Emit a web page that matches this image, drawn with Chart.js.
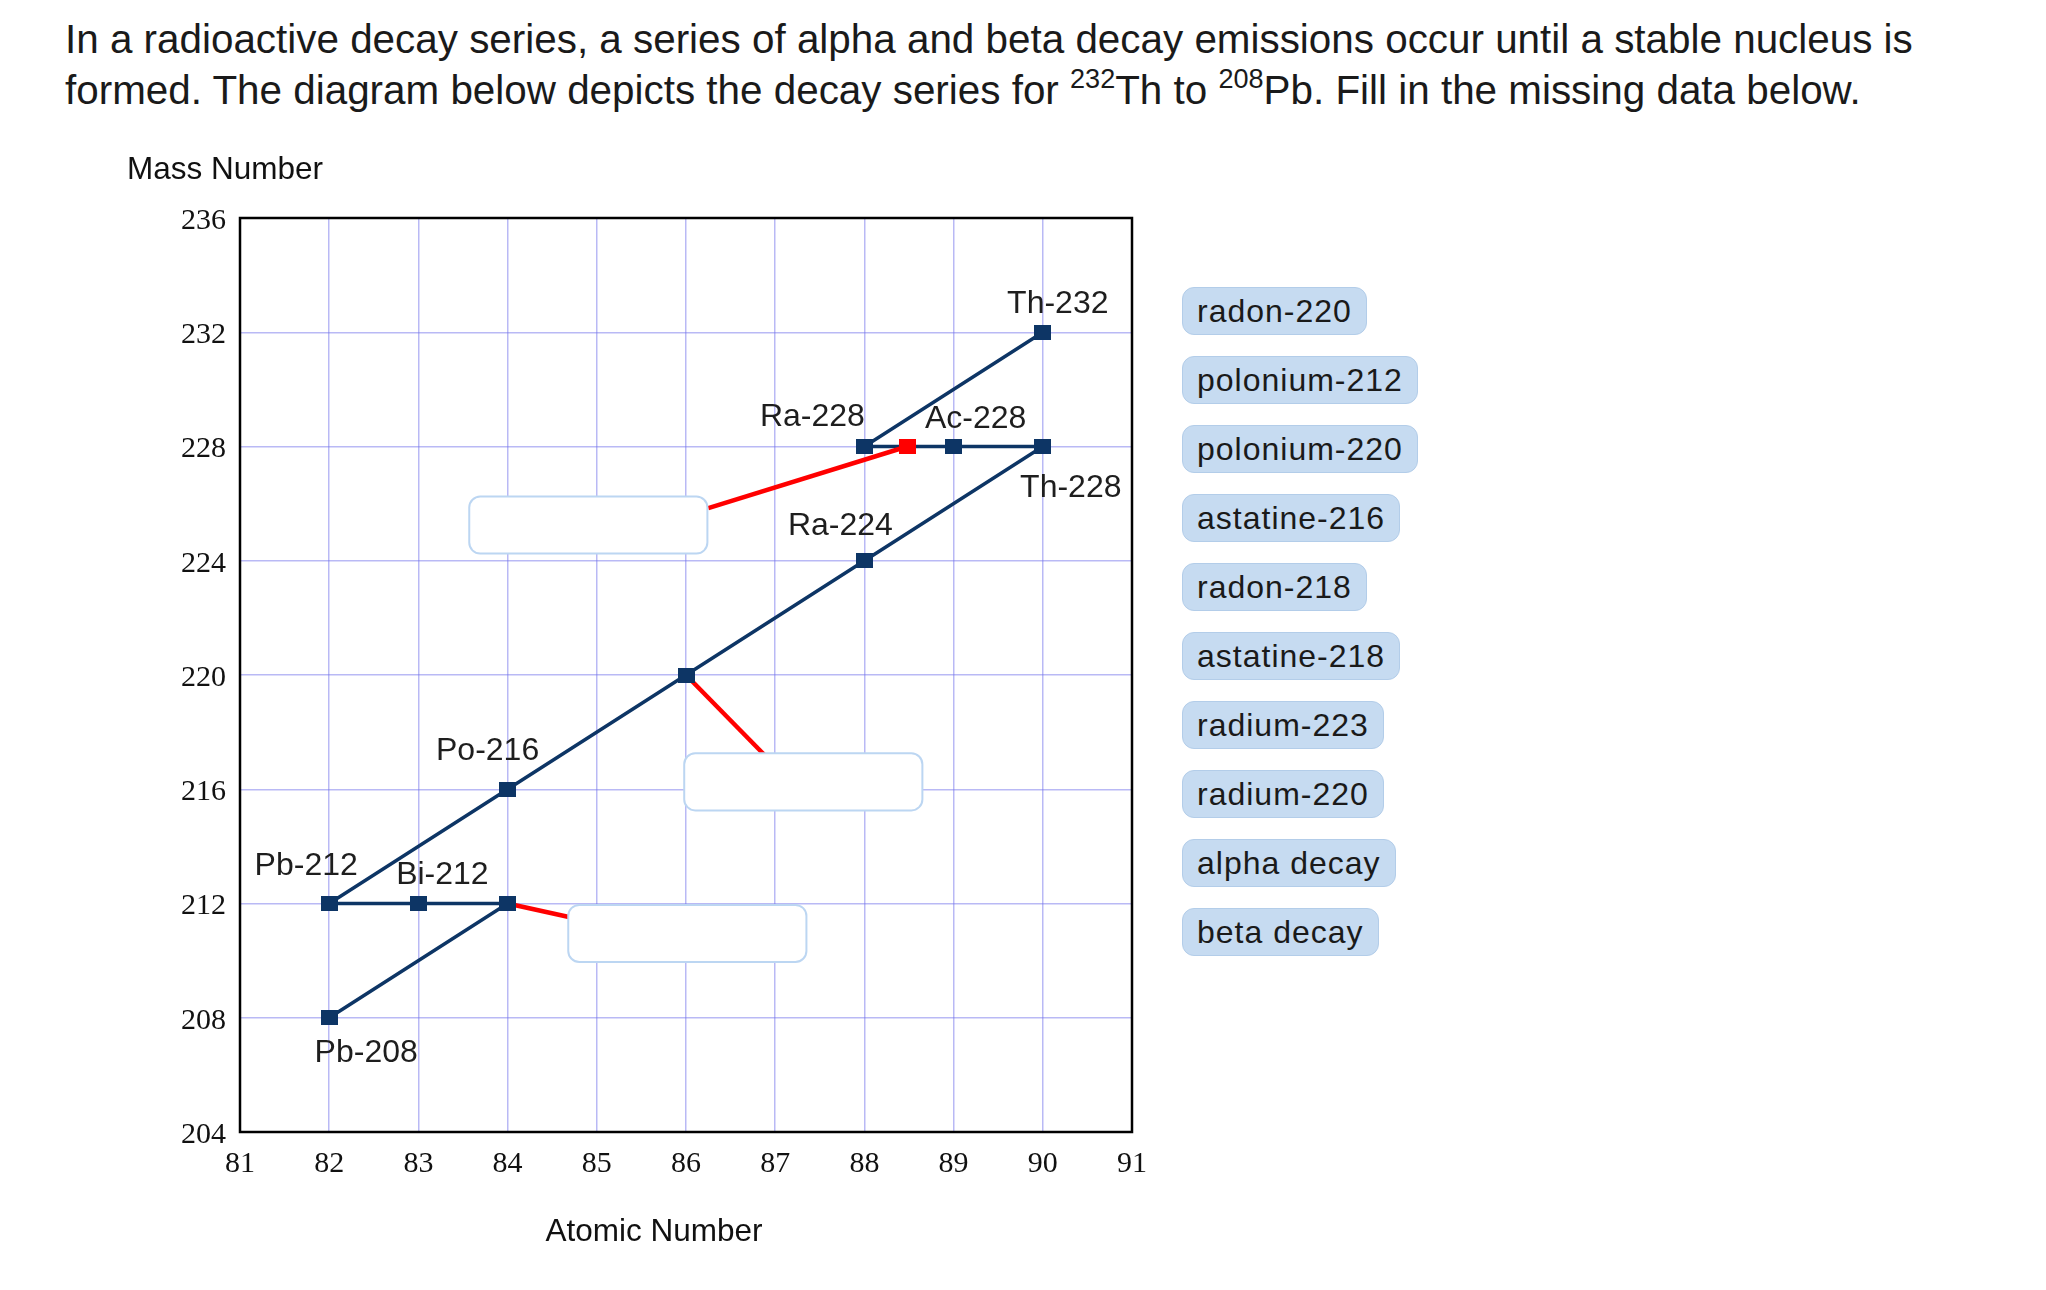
<!DOCTYPE html>
<html>
<head>
<meta charset="utf-8">
<script src="https://cdn.jsdelivr.net/npm/chart.js@4.4.0/dist/chart.umd.min.js"></script>
<style>
  html, body { margin: 0; padding: 0; background: #fff; }
  body { width: 2046px; height: 1290px; position: relative; overflow: hidden; font-family: "Liberation Sans", Arial, sans-serif; }
  #intro { position: absolute; left: 65px; top: 14px; font-size: 40.4px; line-height: 51px; color: #1a1a1a; white-space: nowrap; }
  #intro sup { font-size: 0.67em; vertical-align: 0.6em; line-height: 0; }
  #chart-wrap { position: absolute; left: 0; top: 0; width: 1170px; height: 1290px; }
  #choices { position: absolute; left: 1182px; top: 287px; }
  .pill { width: max-content; height: 46px; line-height: 46px; padding: 0 14px; margin-bottom: 21px;
          background: #c6dbf1; border: 1px solid #b3cde9; border-radius: 12px;
          font-size: 32px; letter-spacing: 1px; color: #1a1a1a; }
</style>
</head>
<body>
<div id="intro">In a radioactive decay series, a series of alpha and beta decay emissions occur until a stable nucleus is<br>formed. The diagram below depicts the decay series for <sup>232</sup>Th to <sup>208</sup>Pb. Fill in the missing data below.</div>
<div id="chart-wrap"><canvas id="decayChart" width="1170" height="1290"></canvas></div>
<div id="choices"></div>

<script>
// axis ranges
const zRange = [81, 91];
const aRange = [204, 236];
const aStep = 4;

// main decay path (atomic number, mass number)
const decayZ = [90, 88, 89, 90, 88, 86, 84, 82, 83, 84, 82];
const decayA = [232, 228, 228, 228, 224, 220, 216, 212, 212, 212, 208];
const isotopeNames = ['Th-232', 'Ra-228', 'Ac-228', 'Th-228', 'Ra-224', '', 'Po-216', 'Pb-212', 'Bi-212', '', 'Pb-208'];

// red leader lines to the blanks
const gap1Z = [88.48, 86.25];
const gap1A = [228, 225.84];
const gap2Z = [86, 86.88];
const gap2A = [220, 217.2];
const gap3Z = [84, 84.7];
const gap3A = [212, 211.52];

// answer choices
const choices = ['radon-220', 'polonium-212', 'polonium-220', 'astatine-216', 'radon-218',
                 'astatine-218', 'radium-223', 'radium-220', 'alpha decay', 'beta decay'];

const NAVY = '#0d3565';
const RED = '#ff0000';
const GRID = 'rgba(115, 115, 235, 0.5)';

// layout only: label offsets (px) and blank boxes (data units, top-left corner)
const labelOffsets = {
  'Th-232': [15, -28], 'Ra-228': [-52, -29], 'Ac-228': [22, -27], 'Th-228': [28, 42],
  'Ra-224': [-24, -35], 'Po-216': [-20, -38], 'Pb-212': [-23, -37], 'Bi-212': [24, -28],
  'Pb-208': [37, 35],
};
const blankBoxes = [[83.57, 226.25], [85.98, 217.26], [84.68, 211.95]];
const blankW = 2.67, blankH = 2.0;

const pts = (zs, as) => zs.map((z, i) => ({ x: z, y: as[i] }));

function makeSquare(color, w, h) {
  const c = document.createElement('canvas');
  c.width = w; c.height = h;
  const g = c.getContext('2d');
  g.fillStyle = color;
  g.fillRect(0, 0, w, h);
  return c;
}

const decor = {
  id: 'decor',
  beforeDatasetsDraw(chart) {
    const { ctx, chartArea: a } = chart;
    ctx.save();
    ctx.strokeStyle = '#000';
    ctx.lineWidth = 2.5;
    ctx.strokeRect(a.left, a.top, a.right - a.left, a.bottom - a.top);
    ctx.restore();
  },
  afterDatasetsDraw(chart) {
    const { ctx, chartArea: a, scales: { x, y } } = chart;
    ctx.save();

    blankBoxes.forEach(([z, m]) => {
      const l = x.getPixelForValue(z), t = y.getPixelForValue(m);
      const w = x.getPixelForValue(z + blankW) - l;
      const h = y.getPixelForValue(m - blankH) - t;
      ctx.beginPath();
      ctx.roundRect(l, t, w, h, 11);
      ctx.fillStyle = '#fff';
      ctx.fill();
      ctx.strokeStyle = '#bcd6f2';
      ctx.lineWidth = 2;
      ctx.stroke();
    });

    ctx.font = '32px "Liberation Sans", Arial, sans-serif';
    ctx.fillStyle = '#1e1e1e';
    ctx.textAlign = 'center';
    ctx.textBaseline = 'middle';
    isotopeNames.forEach((name, i) => {
      if (!name) return;
      const [dx, dy] = labelOffsets[name];
      ctx.fillText(name, x.getPixelForValue(decayZ[i]) + dx, y.getPixelForValue(decayA[i]) + dy);
    });

    ctx.font = '31.5px "Liberation Sans", Arial, sans-serif';
    ctx.fillStyle = '#111';
    ctx.textAlign = 'left';
    ctx.fillText('Mass Number', a.left - 113, a.top - 48);
    ctx.textAlign = 'center';
    ctx.fillText('Atomic Number', a.left + 414, a.bottom + 100);
    ctx.restore();
  }
};

const navySq = makeSquare(NAVY, 17, 15);
const redSq = makeSquare(RED, 17, 15);
const tickFont = { family: '"Liberation Serif", "Times New Roman", serif', size: 30 };

new Chart(document.getElementById('decayChart'), {
  type: 'scatter',
  data: {
    datasets: [
      {
        data: pts(decayZ, decayA), showLine: true, order: 1,
        borderColor: NAVY, borderWidth: 3.5,
        pointStyle: navySq, pointRadius: 8,
      },
      {
        data: pts(gap1Z, gap1A), showLine: true, order: 0,
        borderColor: RED, borderWidth: 4.5,
        pointStyle: redSq, pointRadius: [8, 0],
      },
      {
        data: pts(gap2Z, gap2A), showLine: true, order: 2,
        borderColor: RED, borderWidth: 4.5, pointRadius: 0,
      },
      {
        data: pts(gap3Z, gap3A), showLine: true, order: 2,
        borderColor: RED, borderWidth: 4.5, pointRadius: 0,
      },
    ],
  },
  options: {
    responsive: false,
    devicePixelRatio: 1,
    animation: false,
    layout: { padding: { left: 140, top: 218, right: 38, bottom: 58 } },
    plugins: { legend: { display: false }, tooltip: { enabled: false } },
    scales: {
      x: {
        type: 'linear', min: zRange[0], max: zRange[1],
        afterFit: (s) => { s.height = 100; },
        ticks: { stepSize: 1, autoSkip: false, maxRotation: 0, padding: 14, color: '#111', font: tickFont },
        grid: { color: GRID, lineWidth: 1.5, drawTicks: false },
        border: { display: false },
      },
      y: {
        type: 'linear', min: aRange[0], max: aRange[1],
        afterFit: (s) => { s.width = 100; },
        ticks: { stepSize: aStep, padding: 14, labelOffset: 3, color: '#111', font: tickFont },
        grid: { color: GRID, lineWidth: 1.5, drawTicks: false },
        border: { display: false },
      },
    },
  },
  plugins: [decor],
});

const box = document.getElementById('choices');
choices.forEach((c) => {
  const d = document.createElement('div');
  d.className = 'pill';
  d.textContent = c;
  box.appendChild(d);
});
</script>
</body>
</html>
